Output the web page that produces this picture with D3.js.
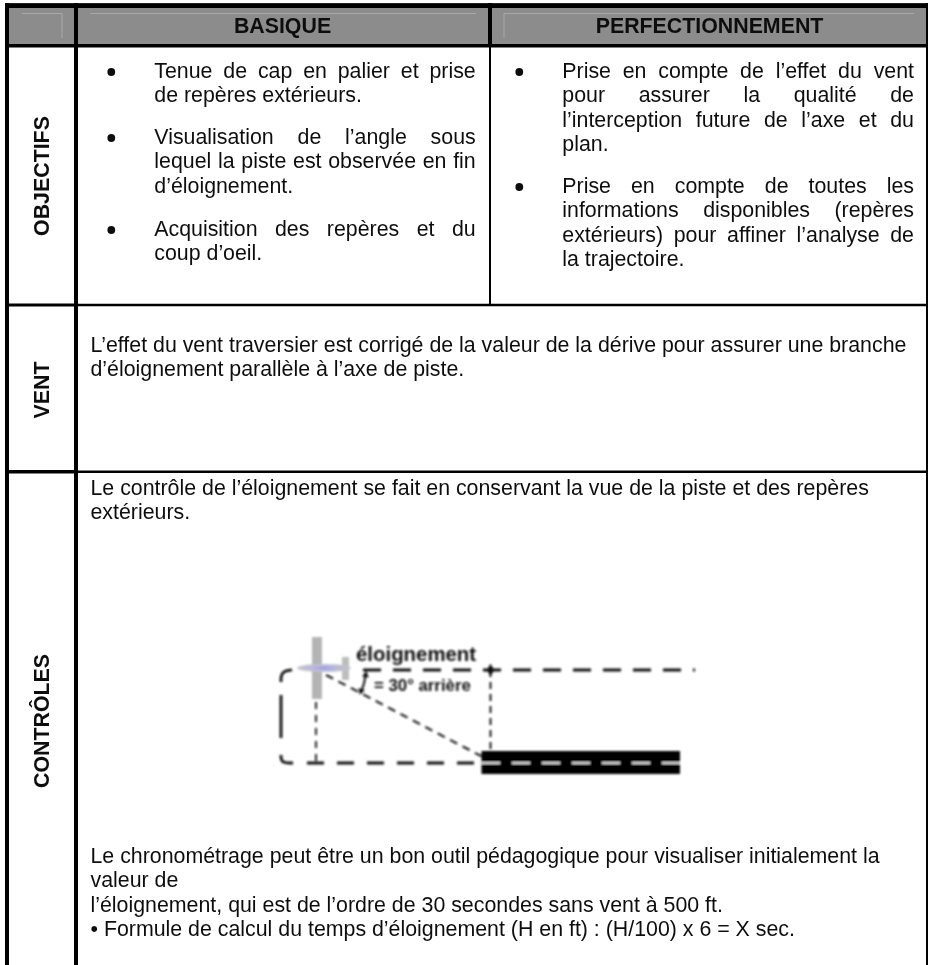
<!DOCTYPE html>
<html>
<head>
<meta charset="utf-8">
<script src="https://cdnjs.cloudflare.com/ajax/libs/d3/7.8.5/d3.min.js"></script>
<style>
html, body { margin: 0; padding: 0; background: #fff; }
svg { display: block; }
text { font-family: "Liberation Sans", Arial, sans-serif; fill: #111; }
</style>
</head>
<body>
<svg id="page" width="928" height="965"></svg>
<script>
// table content
const headers = ["BASIQUE", "PERFECTIONNEMENT"];
const rowLabels = ["OBJECTIFS", "VENT", "CONTRÔLES"];

const basique = [
    ["Tenue de cap en palier et prise", "de repères extérieurs."],
    ["Visualisation de l’angle sous", "lequel la piste est observée en fin", "d’éloignement."],
    ["Acquisition des repères et du", "coup d’oeil."]
];
const perfectionnement = [
    ["Prise en compte de l’effet du vent", "pour assurer la qualité de", "l’interception future de l’axe et du", "plan."],
    ["Prise en compte de toutes les", "informations disponibles (repères", "extérieurs) pour affiner l’analyse de", "la trajectoire."]
];
const vent = [
    "L’effet du vent traversier est corrigé de la valeur de la dérive pour assurer une branche",
    "d’éloignement parallèle à l’axe de piste."
];
const controlesHaut = [
    "Le contrôle de l’éloignement se fait en conservant la vue de la piste et des repères",
    "extérieurs."
];
const controlesBas = [
    "Le chronométrage peut être un bon outil pédagogique pour visualiser initialement la",
    "valeur de",
    "l’éloignement, qui est de l’ordre de 30 secondes sans vent à 500 ft.",
    "• Formule de calcul du temps d’éloignement (H en ft) : (H/100) x 6 = X sec."
];

// schema labels
const schemaTitle = "éloignement";
const schemaAngle = "= 30° arrière";

const svg = d3.select("#page");
const FS = 21.35, LH = 24.4;

const defs = svg.append("defs");
defs.append("filter").attr("id", "soft").append("feGaussianBlur").attr("stdDeviation", 0.8);
defs.append("filter").attr("id", "scan").append("feGaussianBlur").attr("stdDeviation", 0.35);
const grad = defs.append("radialGradient").attr("id", "cabin");
grad.append("stop").attr("offset", "0%").attr("stop-color", "#8c8cf0");
grad.append("stop").attr("offset", "40%").attr("stop-color", "#b5b6e2");
grad.append("stop").attr("offset", "100%").attr("stop-color", "#c4c4c4");

// justified text: the word gaps are stretched so the line reaches x1
function textLine(g, str, x0, y, x1) {
    const t = g.append("text").attr("x", x0).attr("y", y).style("font-size", FS + "px").text(str);
    if (x1 != null) {
        const gaps = str.split(" ").length - 1;
        const w = t.node().getComputedTextLength();
        t.style("word-spacing", ((x1 - x0 - w) / gaps) + "px");
    }
    return t;
}

function bulletBlock(g, blocks, bulletX, x0, x1, startYs) {
    blocks.forEach((lines, b) => {
        g.append("circle").attr("cx", bulletX).attr("cy", startYs[b] - 6).attr("r", 3.9).attr("fill", "#111");
        lines.forEach((l, i) => {
            const last = i == lines.length - 1;
            textLine(g, l, x0, startYs[b] + i * LH, last ? null : x1);
        });
    });
}

// header band
const headG = svg.append("g");
headG.append("rect").attr("x", 5).attr("y", 3).attr("width", 923).attr("height", 44).attr("fill", "#8c8c8c");

const bevel = d3.line();
[[[22, 13.5], [62, 13.5], [62, 38]], [[90, 13.5], [476, 13.5]], [[504, 38], [504, 13.5], [914, 13.5]]].forEach(p => {
    headG.append("path").attr("d", bevel(p)).attr("fill", "none").attr("stroke", "#a8a8a8").attr("stroke-width", 1);
});

// rules
const rule = (x1, y1, x2, y2, w) => svg.append("line")
    .attr("x1", x1).attr("y1", y1).attr("x2", x2).attr("y2", y2)
    .attr("stroke", "#000").attr("stroke-width", w);

rule(5, 5.6, 928, 5.6, 4.8);
rule(5, 45.7, 928, 45.7, 3.4);
rule(7, 3, 7, 965, 4);
rule(76, 3, 76, 965, 4);
rule(490, 3, 490, 47, 4);
rule(490, 47, 490, 304, 2);
rule(927, 3, 927, 965, 2);
rule(5, 305, 76, 305, 3);
rule(76, 305, 928, 305, 2.4);
rule(5, 471.8, 76, 471.8, 3.5);
rule(76, 471.8, 928, 471.8, 2.4);

const words = svg.append("g").attr("filter", "url(#scan)");

headers.forEach((h, i) => {
    words.append("text").attr("x", [282.5, 709.5][i]).attr("y", 32.7)
        .attr("text-anchor", "middle").style("font-size", FS + "px").style("font-weight", "bold").text(h);
});

// row labels, rotated
rowLabels.forEach((l, i) => {
    words.append("text").attr("transform", `translate(${49},${[176, 390, 721][i]}) rotate(-90)`)
        .attr("text-anchor", "middle").style("font-size", FS + "px").style("font-weight", "bold").text(l);
});

// row contents
bulletBlock(words, basique, 111.3, 154.3, 475.7, [78, 144, 236]);
bulletBlock(words, perfectionnement, 519.3, 562.3, 914, [78, 193]);
vent.forEach((l, i) => textLine(words, l, 90.5, 352 + i * LH));
controlesHaut.forEach((l, i) => textLine(words, l, 90.5, 494.5 + i * LH));
controlesBas.forEach((l, i) => textLine(words, l, 90.5, 863 + i * LH));

// schema, measured in the page pixels of the picture
const sx = d3.scaleLinear().domain([0, 400]).range([280, 680]);
const sy = d3.scaleLinear().domain([0, 100]).range([670, 770]);
const line = d3.line().x(d => sx(d[0])).y(d => sy(d[1]));
const curve = d3.line().x(d => sx(d[0])).y(d => sy(d[1])).curve(d3.curveBasis);

const schema = svg.append("g").attr("filter", "url(#soft)");

const stroke = (pts, w, dash, color, gen) => schema.append("path").attr("d", (gen || line)(pts))
    .attr("fill", "none").attr("stroke", color || "#111").attr("stroke-width", w).attr("stroke-dasharray", dash);

// runway
schema.append("rect").attr("x", sx(201.5)).attr("y", sy(81)).attr("width", sx(400) - sx(201.5)).attr("height", sy(104) - sy(81)).attr("fill", "#000");

// airplane
schema.append("rect").attr("x", sx(62)).attr("y", sy(-13)).attr("width", 7).attr("height", 23).attr("fill", "#bdbdbd");
schema.append("rect").attr("x", sx(32)).attr("y", sy(-33)).attr("width", 10).attr("height", 62).attr("fill", "#b4b4b4");
schema.append("ellipse").attr("cx", sx(44)).attr("cy", sy(-2)).attr("rx", 27).attr("ry", 4).attr("fill", "url(#cabin)");

// circuit
stroke([[1, 25], [1, 68]], 2.8);
stroke([[1, 12], [1, 5], [4, 1], [12, 0]], 2.8, null, null, curve);
stroke([[1, 85], [1, 90], [4, 93], [13, 93]], 2.8, null, null, curve);
stroke([[83, 0], [415, 0]], 2.8, "18 12");
stroke([[27, 93], [201, 93]], 2.8, "17 13");
stroke([[202, 93], [400, 93]], 2.2, "18 12", "#ddd");

// construction lines
stroke([[36, 32], [36, 93]], 1.8, "7 6");
stroke([[30, 93], [42, 93]], 1.8);
stroke([[210.5, 0], [210.5, 82]], 1.8, "7 5");
stroke([[46, 5], [203, 87]], 2, "8 6");
schema.append("path").attr("d", d3.symbol(d3.symbolDiamond, 46)()).attr("transform", `translate(${sx(210.5)},${sy(0)})`).attr("fill", "#111");

// angle mark
stroke([[85.7, 3], [84.5, 13], [80.7, 23]], 2, null, null, curve);
schema.append("path").attr("d", d3.symbol(d3.symbolTriangle, 20)()).attr("transform", `translate(${sx(85.7)},${sy(5)}) rotate(8)`).attr("fill", "#111");
schema.append("path").attr("d", d3.symbol(d3.symbolTriangle, 20)()).attr("transform", `translate(${sx(81)},${sy(21)}) rotate(200)`).attr("fill", "#111");

schema.append("text").attr("x", sx(76)).attr("y", sy(-9.5)).style("font-size", "20.4px").style("font-weight", "bold").text(schemaTitle);
schema.append("text").attr("x", sx(94)).attr("y", sy(21)).style("font-size", "16.8px").style("font-weight", "bold").text(schemaAngle);
</script>
</body>
</html>
